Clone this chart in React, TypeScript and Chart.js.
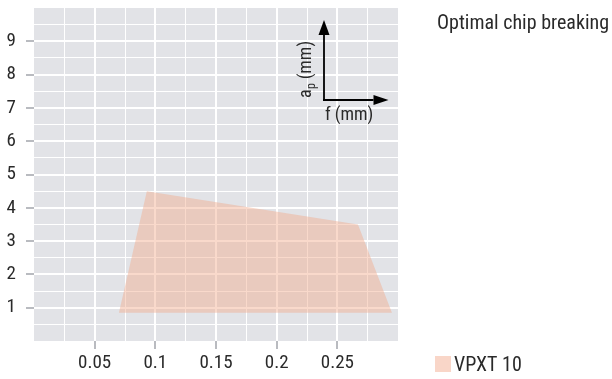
import React, { useEffect, useRef } from "react";
import { Chart, registerables } from "chart.js";

Chart.register(...registerables);

// Working range of the insert: feed f (mm) against depth of cut ap (mm)
const feedValues = [0.07, 0.093, 0.267, 0.295];
const depthValues = [0.85, 4.5, 3.5, 0.85];
const seriesLabel = "VPXT 10";
const chartTitle = "Optimal chip breaking";
const xTickLabels = ["0.05", "0.1", "0.15", "0.2", "0.25"];
const yTickLabels = ["1", "2", "3", "4", "5", "6", "7", "8", "9"];
const xAxisName = "f (mm)";
const yAxisName = "a";
const yAxisSub = "p";
const yAxisUnit = " (mm)";

const FONT = "'Roboto Condensed', 'Liberation Sans', sans-serif";
const TEXT = "#2a2a2a";
const PANEL = "#e2e3e7";
const FILL = "rgba(242, 170, 140, 0.45)";
const TICK_MARK = "#b9bbc0";

const fmt = (v: number) => String(+v.toFixed(4));
const isMultiple = (v: number, step: number) =>
  Math.abs(v / step - Math.round(v / step)) < 1e-6;

const panelPlugin = {
  id: "panel",
  beforeDraw(chart: any) {
    const { ctx, chartArea: a } = chart;
    ctx.save();
    ctx.fillStyle = PANEL;
    ctx.fillRect(a.left, a.top, a.right - a.left, a.bottom - a.top);
    ctx.restore();
  },
};

function arrow(ctx: CanvasRenderingContext2D, x1: number, y1: number, x2: number, y2: number, len: number, w: number) {
  const ang = Math.atan2(y2 - y1, x2 - x1);
  const bx = x2 - Math.cos(ang) * len;
  const by = y2 - Math.sin(ang) * len;
  ctx.beginPath();
  ctx.moveTo(x1, y1);
  ctx.lineTo(bx, by);
  ctx.stroke();
  ctx.beginPath();
  ctx.moveTo(x2, y2);
  ctx.lineTo(bx + Math.sin(ang) * w / 2, by - Math.cos(ang) * w / 2);
  ctx.lineTo(bx - Math.sin(ang) * w / 2, by + Math.cos(ang) * w / 2);
  ctx.closePath();
  ctx.fill();
}

const overlayPlugin = {
  id: "overlay",
  afterDraw(chart: any) {
    const { ctx, chartArea: a } = chart;
    ctx.save();

    // axis key inside the plot
    const ox = a.right - 74;
    const oy = a.top + 92;
    ctx.strokeStyle = "#000";
    ctx.fillStyle = "#000";
    ctx.lineWidth = 1.8;
    arrow(ctx, ox, oy + 1, ox, a.top + 12, 15, 11);
    arrow(ctx, ox - 1, oy, a.right - 9.5, oy, 15, 10);

    ctx.fillStyle = TEXT;
    ctx.font = `18px ${FONT}`;
    ctx.textBaseline = "alphabetic";
    ctx.textAlign = "left";
    ctx.fillText(xAxisName, ox + 1, oy + 20);

    ctx.save();
    ctx.translate(ox - 13, oy - 2);
    ctx.rotate(-Math.PI / 2);
    ctx.font = `18px ${FONT}`;
    ctx.fillText(yAxisName, 0, 0);
    const wa = ctx.measureText(yAxisName).width;
    ctx.font = `12px ${FONT}`;
    ctx.fillText(yAxisSub, wa + 0.5, 4);
    const wp = ctx.measureText(yAxisSub).width;
    ctx.font = `18px ${FONT}`;
    ctx.fillText(yAxisUnit, wa + wp, 0);
    ctx.restore();

    // title at the top right
    ctx.font = `20px ${FONT}`;
    ctx.textBaseline = "alphabetic";
    ctx.fillText(chartTitle, 437, 29);

    // legend at the bottom right
    const ds = chart.data.datasets[0];
    ctx.fillStyle = "rgba(249, 214, 200, 1)";
    ctx.fillRect(435, 356, 16, 16);
    ctx.fillStyle = TEXT;
    ctx.font = `20px ${FONT}`;
    ctx.fillText(ds.label, 454, 371);

    ctx.restore();
  },
};

export default function App() {
  const ref = useRef<HTMLCanvasElement | null>(null);

  useEffect(() => {
    if (!ref.current) return;
    const points = feedValues.map((x, i) => ({ x, y: depthValues[i] }));
    const chart = new Chart(ref.current, {
      type: "line",
      data: {
        datasets: [
          {
            label: seriesLabel,
            data: points,
            backgroundColor: FILL,
            borderWidth: 0,
            borderColor: "rgba(0,0,0,0)",
            pointRadius: 0,
            fill: "shape",
            tension: 0,
          } as any,
        ],
      },
      options: {
        responsive: false,
        animation: false,
        layout: { padding: { top: 8, right: 214, left: 0, bottom: 0 } },
        plugins: { legend: { display: false }, tooltip: { enabled: false } },
        scales: {
          x: {
            type: "linear",
            min: 0,
            max: 0.3,
            afterFit: (s: any) => {
              s.height = 38;
              s.paddingLeft = 0;
              s.paddingRight = 0;
            },
            border: { display: false },
            grid: {
              color: (c: any) => {
                const v = c.tick?.value ?? 0;
                return v <= 1e-9 || v >= 0.3 - 1e-9 ? "rgba(0,0,0,0)" : "#ffffff";
              },
              lineWidth: (c: any) => (isMultiple(c.tick?.value ?? 0, 0.05) ? 2 : 1),
              tickLength: 8,
              tickWidth: 2,
              tickColor: (c: any) =>
                xTickLabels.includes(fmt(c.tick?.value ?? -1)) ? TICK_MARK : "rgba(0,0,0,0)",
            },
            ticks: {
              stepSize: 0.025,
              autoSkip: false,
              maxRotation: 0,
              padding: 3,
              color: TEXT,
              font: { family: FONT, size: 19 },
              callback: (v: any) => (xTickLabels.includes(fmt(Number(v))) ? fmt(Number(v)) : ""),
            },
          },
          y: {
            type: "linear",
            min: 0,
            max: 10,
            afterFit: (s: any) => {
              s.width = 34;
              s.paddingTop = 0;
              s.paddingBottom = 0;
            },
            border: { display: false },
            grid: {
              color: (c: any) => {
                const v = c.tick?.value ?? 0;
                return v <= 1e-9 || v >= 10 - 1e-9 ? "rgba(0,0,0,0)" : "#ffffff";
              },
              lineWidth: (c: any) => (isMultiple(c.tick?.value ?? 0, 1) ? 2 : 1),
              tickLength: 8,
              tickWidth: 2,
              tickColor: (c: any) =>
                yTickLabels.includes(fmt(c.tick?.value ?? -1)) ? TICK_MARK : "rgba(0,0,0,0)",
            },
            ticks: {
              stepSize: 0.5,
              autoSkip: false,
              padding: 10,
              color: TEXT,
              font: { family: FONT, size: 19 },
              callback: (v: any) => (yTickLabels.includes(fmt(Number(v))) ? fmt(Number(v)) : ""),
            },
          },
        },
      },
      plugins: [panelPlugin, overlayPlugin],
    });
    return () => chart.destroy();
  }, []);

  return (
    <div style={{ position: "absolute", left: 0, top: 0, width: 612, height: 379 }}>
      <canvas ref={ref} width={612} height={379} />
    </div>
  );
}
